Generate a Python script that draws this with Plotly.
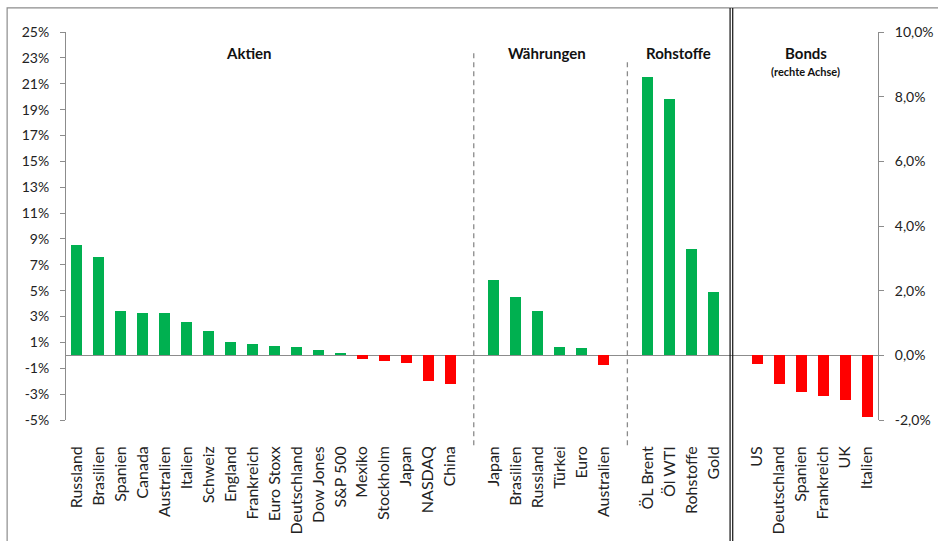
import plotly.graph_objects as go

# ---------------- data ----------------
aktien_cats = ["Russland", "Brasilien", "Spanien", "Canada", "Australien", "Italien", "Schweiz",
               "England", "Frankreich", "Euro Stoxx", "Deutschland", "Dow Jones", "S&P 500",
               "Mexiko", "Stockholm", "Japan", "NASDAQ", "China"]
aktien_vals = [8.5, 7.6, 3.4, 3.3, 3.25, 2.6, 1.9, 1.0, 0.9, 0.7, 0.65, 0.4, 0.18,
               -0.25, -0.42, -0.6, -2.0, -2.2]

waehrung_cats = ["Japan", "Brasilien", "Russland", "Türkei", "Euro", "Australien"]
waehrung_vals = [5.8, 4.5, 3.4, 0.68, 0.58, -0.76]

rohstoff_cats = ["ÖL Brent", "Öl WTI", "Rohstoffe", "Gold"]
rohstoff_vals = [21.55, 19.8, 8.25, 4.9]

bond_cats = ["US", "Deutschland", "Spanien", "Frankreich", "UK", "Italien"]
bond_vals = [-0.27, -0.9, -1.13, -1.27, -1.37, -1.92]   # right axis

group_titles = ["Aktien", "Währungen", "Rohstoffe", "Bonds"]

left_tickvals = list(range(-5, 26, 2))
left_ticktext = [f"{v}%" for v in left_tickvals]
right_tickvals = [-2, 0, 2, 4, 6, 8, 10]
right_ticktext = ["-2,0%", "0,0%", "2,0%", "4,0%", "6,0%", "8,0%", "10,0%"]

GREEN = "#00B050"
RED = "#FF0000"
FONT = "Lato"

# ---------------- positions (one empty slot between groups) ----------------
groups = [(aktien_cats, aktien_vals, "y"), (waehrung_cats, waehrung_vals, "y"),
          (rohstoff_cats, rohstoff_vals, "y"), (bond_cats, bond_vals, "y2")]
pos = 0
tickvals, ticktext = [], []
gap_slots, centers = [], []
fig = go.Figure()
for gi, (cats, vals, yax) in enumerate(groups):
    xs = list(range(pos, pos + len(cats)))
    centers.append((xs[0] + xs[-1]) / 2)
    colors = [GREEN if v >= 0 else RED for v in vals]
    fig.add_trace(go.Bar(x=xs, y=vals, marker_color=colors, marker_line_width=0,
                         width=0.5, yaxis=yax, showlegend=False, hoverinfo="skip"))
    tickvals += xs
    ticktext += cats
    pos += len(cats)
    if gi < len(groups) - 1:
        gap_slots.append(pos)
        pos += 1
n_slots = pos

# ---------------- separators ----------------
shapes = []
for g, top in zip(gap_slots[:2], (0.948, 0.928)):
    shapes.append(dict(type="line", xref="x", yref="paper", x0=g + 0.08, x1=g + 0.08,
                       y0=-0.065, y1=top, line=dict(color="#8a8a8a", width=1.3, dash="5px,4px")))
g = gap_slots[2]
for dx in (-0.24, -0.12):
    shapes.append(dict(type="line", xref="x", yref="paper", x0=g + dx, x1=g + dx,
                       y0=-0.4, y1=1.062, line=dict(color="#111111", width=1.2)))
# outer border
shapes.append(dict(type="rect", xref="paper", yref="paper", x0=-0.0725, x1=1.2,
                   y0=-0.5, y1=1.062, line=dict(color="#8c8c8c", width=1.2), layer="below"))

# ---------------- titles ----------------
annotations = []
offsets = [-0.65, -0.1, -0.1, -0.3]
for t, c, o in zip(group_titles, centers, offsets):
    annotations.append(dict(text=f"<b>{t}</b>", x=c + o, y=0.946, xref="x", yref="paper",
                            yanchor="middle", showarrow=False,
                            font=dict(family=FONT, size=15, color="#111")))
annotations.append(dict(text="<b>(rechte Achse)</b>", x=centers[3] - 0.3, y=0.897,
                        xref="x", yref="paper", yanchor="middle", showarrow=False,
                        font=dict(family=FONT, size=11, color="#111")))

fig.update_layout(
    width=938, height=541,
    margin=dict(l=66, r=60, t=32, b=121, autoexpand=False),
    paper_bgcolor="white", plot_bgcolor="white",
    font=dict(family=FONT, color="#222"),
    bargap=0,
    shapes=shapes, annotations=annotations,
    xaxis=dict(range=[-0.5, n_slots - 0.5], tickmode="array", tickvals=tickvals,
               ticktext=ticktext, tickangle=-90, showgrid=False, showline=False,
               zeroline=False, ticks="", ticklabelstandoff=22, automargin=False,
               tickfont=dict(family=FONT, size=16, color="#222")),
    yaxis=dict(range=[-5, 25], tickmode="array", tickvals=left_tickvals,
               ticktext=left_ticktext, showgrid=False, showline=True, linecolor="#8c8c8c",
               linewidth=1, ticks="outside", ticklen=5, tickcolor="#8c8c8c",
               zeroline=True, zerolinecolor="#8c8c8c", zerolinewidth=1, automargin=False,
               ticklabelstandoff=8, tickfont=dict(family=FONT, size=14, color="#222")),
    yaxis2=dict(range=[-2, 10], overlaying="y", side="right", tickmode="array",
                tickvals=right_tickvals, ticktext=right_ticktext, showgrid=False,
                showline=True, linecolor="#8c8c8c", linewidth=1, ticks="outside",
                ticklen=5, tickcolor="#8c8c8c", zeroline=False, automargin=False,
                ticklabelstandoff=8, tickfont=dict(family=FONT, size=14, color="#222")),
)

fig.write_html("out.html")
